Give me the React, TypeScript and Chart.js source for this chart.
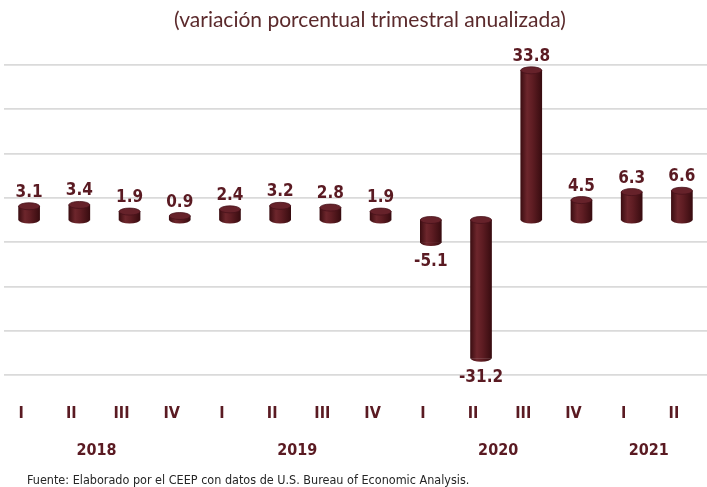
import React, { useEffect, useRef } from "react";
import { Chart, registerables } from "chart.js";

Chart.register(...registerables);

const quarters = ["I", "II", "III", "IV", "I", "II", "III", "IV", "I", "II", "III", "IV", "I", "II"];
const values = [3.1, 3.4, 1.9, 0.9, 2.4, 3.2, 2.8, 1.9, -5.1, -31.2, 33.8, 4.5, 6.3, 6.6];
const years = ["2018", "2019", "2020", "2021"];
const yearPositions = [1.5, 5.5, 9.5, 12.5];
const gridValues = [-35, -25, -15, -5, 5, 15, 25, 35];
const subtitle = "(variación porcentual trimestral anualizada)";
const footer = "Fuente: Elaborado por el CEEP con datos de U.S. Bureau of Economic Analysis.";

const MAROON = "#5c1b21";
const TEXT = "#5a1a22";
const BAR_W = 21;
const CAP_H = 7;
const NARROW = "'Liberation Sans Narrow', 'DejaVu Sans Condensed', sans-serif";

function barGradient(c: CanvasRenderingContext2D, cx: number, w: number) {
  if (!Number.isFinite(cx) || !Number.isFinite(w)) return MAROON;
  const g = c.createLinearGradient(cx - w / 2, 0, cx + w / 2, 0);
  g.addColorStop(0, "#3c0e12");
  g.addColorStop(0.3, "#6d262c");
  g.addColorStop(0.55, "#5f1d23");
  g.addColorStop(1, "#380c10");
  return g;
}

const cylinderPlugin = {
  id: "cylinder",
  afterDatasetsDraw(chart: any) {
    const meta = chart.getDatasetMeta(0);
    const c: CanvasRenderingContext2D = chart.ctx;
    meta.data.forEach((el: any, i: number) => {
      const { x, y, base, width } = el.getProps(["x", "y", "base", "width"], true);
      if (![x, y, base, width].every((n) => Number.isFinite(n))) return;
      const top = Math.min(y, base);
      const bottom = Math.max(y, base);
      const rx = width / 2;
      const ry = CAP_H / 2;
      c.save();
      c.fillStyle = barGradient(c, x, width);
      c.beginPath();
      c.ellipse(x, bottom, rx, ry, 0, 0, Math.PI);
      c.fill();
      c.beginPath();
      c.ellipse(x, top, rx, ry, 0, 0, Math.PI * 2);
      c.fillStyle = "#66222a";
      c.fill();
      c.strokeStyle = "#47121a";
      c.lineWidth = 0.8;
      c.stroke();
      const v = values[i];
      c.fillStyle = TEXT;
      c.font = `bold 17px ${NARROW}`;
      c.textAlign = "center";
      if (v >= 0) {
        c.textBaseline = "alphabetic";
        c.fillText(v.toFixed(1), x, top - ry - 6);
      } else {
        c.textBaseline = "middle";
        c.fillText(v.toFixed(1), x, bottom + 19);
      }
      c.restore();
    });
  },
};

const textPlugin = {
  id: "texts",
  afterDraw(chart: any) {
    const c: CanvasRenderingContext2D = chart.ctx;
    const xs = chart.scales.x;
    c.save();
    c.fillStyle = TEXT;
    c.font = `bold 16px ${NARROW}`;
    c.textAlign = "center";
    c.textBaseline = "middle";
    years.forEach((yr, i) => {
      c.fillText(yr, xs.getPixelForValue(yearPositions[i]) - 8, 451);
    });
    c.fillStyle = "#5b2a2c";
    c.font = "21px Lato, 'Noto Sans', sans-serif";
    c.fillText(subtitle, 370, 20);
    c.fillStyle = "#262626";
    c.font = `12.5px ${NARROW}`;
    c.textAlign = "left";
    c.fillText(footer, 27, 481);
    c.restore();
  },
};

export default function App() {
  const ref = useRef<HTMLCanvasElement | null>(null);
  useEffect(() => {
    if (!ref.current) return;
    const chart = new Chart(ref.current, {
      type: "bar",
      data: {
        labels: quarters,
        datasets: [
          {
            data: values,
            barThickness: BAR_W,
            borderWidth: 0,
            backgroundColor: (ctx: any) => {
              const ch = ctx.chart;
              const xs = ch.scales && ch.scales.x;
              if (!xs || ctx.type !== "data") return MAROON;
              const cx = xs.getPixelForValue(ctx.dataIndex);
              return barGradient(ch.ctx, cx, BAR_W);
            },
          },
        ],
      },
      options: {
        responsive: false,
        animation: false,
        layout: { padding: { top: 65, left: 4, right: 0, bottom: 64 } },
        plugins: { legend: { display: false }, tooltip: { enabled: false } },
        scales: {
          x: {
            type: "category",
            position: "bottom",
            grid: { display: false, drawTicks: false },
            border: { display: false },
            afterFit: (scale: any) => {
              scale.height = 48;
              scale.paddingLeft = 0;
              scale.paddingRight = 0;
            },
            ticks: {
              padding: 29,
              labelOffset: -8,
              color: TEXT,
              font: { family: NARROW, size: 16, weight: "bold" },
              maxRotation: 0,
              autoSkip: false,
            },
          },
          y: {
            min: -35,
            max: 35,
            afterBuildTicks: (scale: any) => {
              scale.ticks = gridValues.map((v) => ({ value: v }));
            },
            afterFit: (scale: any) => {
              scale.width = 0;
              scale.paddingTop = 0;
              scale.paddingBottom = 0;
            },
            grid: { color: "#dadada", lineWidth: 1.8, drawTicks: false },
            border: { display: false },
            ticks: { display: false },
          },
        },
      },
      plugins: [cylinderPlugin, textPlugin],
    } as any);
    return () => chart.destroy();
  }, []);
  return (
    <div style={{ position: "absolute", left: 0, top: 0, width: 707, height: 487, background: "#fff" }}>
      <canvas ref={ref} width={707} height={487} />
    </div>
  );
}
